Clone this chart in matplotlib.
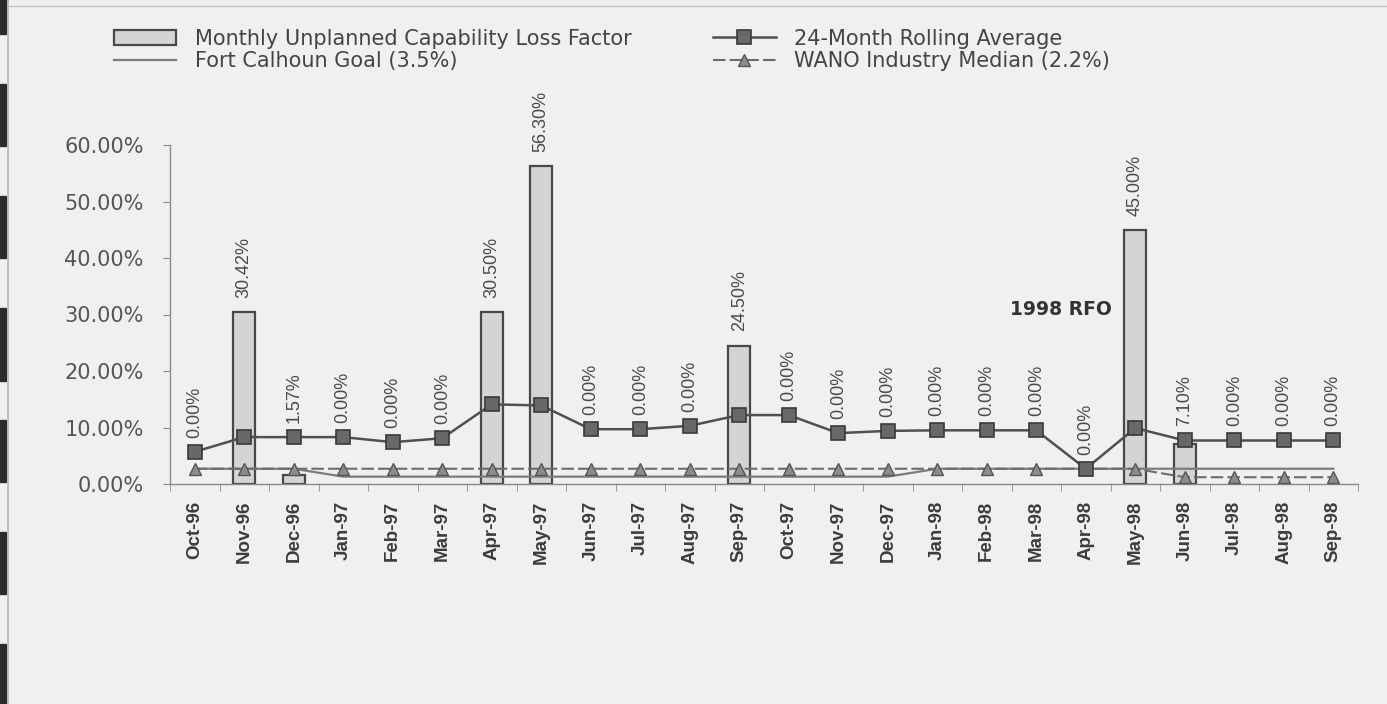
import numpy as np
import matplotlib.pyplot as plt
from matplotlib.patches import Rectangle, Patch
from matplotlib.lines import Line2D

months = ['Oct-96', 'Nov-96', 'Dec-96', 'Jan-97', 'Feb-97', 'Mar-97', 'Apr-97', 'May-97',
          'Jun-97', 'Jul-97', 'Aug-97', 'Sep-97', 'Oct-97', 'Nov-97', 'Dec-97', 'Jan-98',
          'Feb-98', 'Mar-98', 'Apr-98', 'May-98', 'Jun-98', 'Jul-98', 'Aug-98', 'Sep-98']

# monthly unplanned capability loss factor (%)
loss = [0.00, 30.42, 1.57, 0.00, 0.00, 0.00, 30.50, 56.30, 0.00, 0.00, 0.00, 24.50,
        0.00, 0.00, 0.00, 0.00, 0.00, 0.00, 0.00, 45.00, 7.10, 0.00, 0.00, 0.00]

# 24-month rolling average (%)
rolling_avg = [5.7, 8.3, 8.3, 8.3, 7.4, 8.1, 14.1, 13.9, 9.7, 9.7, 10.3, 12.2,
               12.2, 9.0, 9.4, 9.5, 9.5, 9.5, 2.7, 9.9, 7.7, 7.7, 7.7, 7.7]

goal = [2.7] * 3 + [1.3] * 12 + [2.7] * 9
wano = [2.7] * 20 + [1.2] * 4

W, H = 1387, 704
bg = '#f0f0f0'
txt = '#3c3c3c'
bar_face, bar_edge = '#d4d4d4', '#484848'

plt.rcParams['font.family'] = ['Liberation Sans', 'DejaVu Sans']

fig = plt.figure(figsize=(W / 100, H / 100), dpi=100, facecolor=bg)
ax = fig.add_axes([170 / W, 1 - 484 / H, (1358 - 170) / W, (484 - 145) / H])
ax.set_facecolor('none')

x = np.arange(len(months))

# zero-height months get no outline so nothing shows on the axis
edge_w = [1.6 if v > 0 else 0 for v in loss]
ax.bar(x, loss, width=0.45, color=bar_face, edgecolor=bar_edge,
       linewidth=edge_w, zorder=2)
goal_h, = ax.plot(x, goal, color='#7c7c7c', lw=1.6, zorder=3)
roll_h, = ax.plot(x, rolling_avg, color='#505050', lw=1.8, marker='s', ms=10,
                  mfc='#686868', mec='#3a3a3a', mew=1.2, zorder=4)
wano_h, = ax.plot(x, wano, color='#6c6c6c', lw=1.5, ls=(0, (6, 2)), marker='^',
                  ms=8, mfc='#8c8c8c', mec='#555555', zorder=3)
bar_h = Patch(facecolor=bar_face, edgecolor=bar_edge, linewidth=1.6)

# value labels above each month
for i, v in enumerate(loss):
    base = max(v, rolling_avg[i])
    ax.text(i, base + 2.5, f'{v:.2f}%', rotation=90, ha='center', va='bottom',
            fontsize=13, color='#4a4a4a', zorder=5)

ax.text(17.5, 30.8, '1998 RFO', ha='center', va='center', fontsize=13.5,
        fontweight='bold', color='#333333', family=['DejaVu Sans'])

ax.set_xlim(-0.5, len(months) - 0.5)
ax.set_ylim(0, 60)
ax.set_yticks(np.arange(0, 61, 10))
ax.set_yticklabels([f'{t:.2f}%' for t in np.arange(0, 61, 10)], fontsize=15,
                   color='#555555', family=['DejaVu Sans'])
ax.set_xticks(x)
ax.set_xticklabels(months, rotation=90, fontsize=13.5, fontweight='bold', color=txt)
ax.set_xticks(np.arange(-0.5, len(months), 1), minor=True)
ax.tick_params(axis='x', which='major', length=0, pad=12)
ax.tick_params(axis='x', which='minor', length=5, color='#888888', direction='out')
ax.tick_params(axis='y', length=5, color='#888888', pad=14)

for s in ['top', 'right']:
    ax.spines[s].set_visible(False)
for s in ['left', 'bottom']:
    ax.spines[s].set_color('#8a8a8a')
    ax.spines[s].set_linewidth(1.0)

fig.legend([bar_h, goal_h, roll_h, wano_h],
           ['Monthly Unplanned Capability Loss Factor', 'Fort Calhoun Goal (3.5%)',
            '24-Month Rolling Average', 'WANO Industry Median (2.2%)'],
           ncol=2, loc='upper left', bbox_to_anchor=(95 / W, 1 - 10 / H),
           frameon=False, handlelength=3.0, handletextpad=0.9,
           columnspacing=3.9, labelspacing=0.1, labelcolor='#444444',
           prop={'family': ['DejaVu Sans'], 'size': 15})

# dark binding marks along the left edge and page border lines
for y0, y1 in [(0, 34), (84, 146), (196, 258), (308, 381), (420, 482), (532, 594), (644, 704)]:
    fig.patches.append(Rectangle((0, 1 - y1 / H), 6 / W, (y1 - y0) / H,
                                 transform=fig.transFigure, color='#2b2b2b'))
fig.lines.append(Line2D([8 / W, 8 / W], [0, 1], transform=fig.transFigure,
                        color='#b5b5b5', lw=1.2))
fig.lines.append(Line2D([8 / W, 1], [1 - 6 / H, 1 - 6 / H], transform=fig.transFigure,
                        color='#c4c4c4', lw=1.0))

fig.savefig('out.png', dpi=100, facecolor=bg)
